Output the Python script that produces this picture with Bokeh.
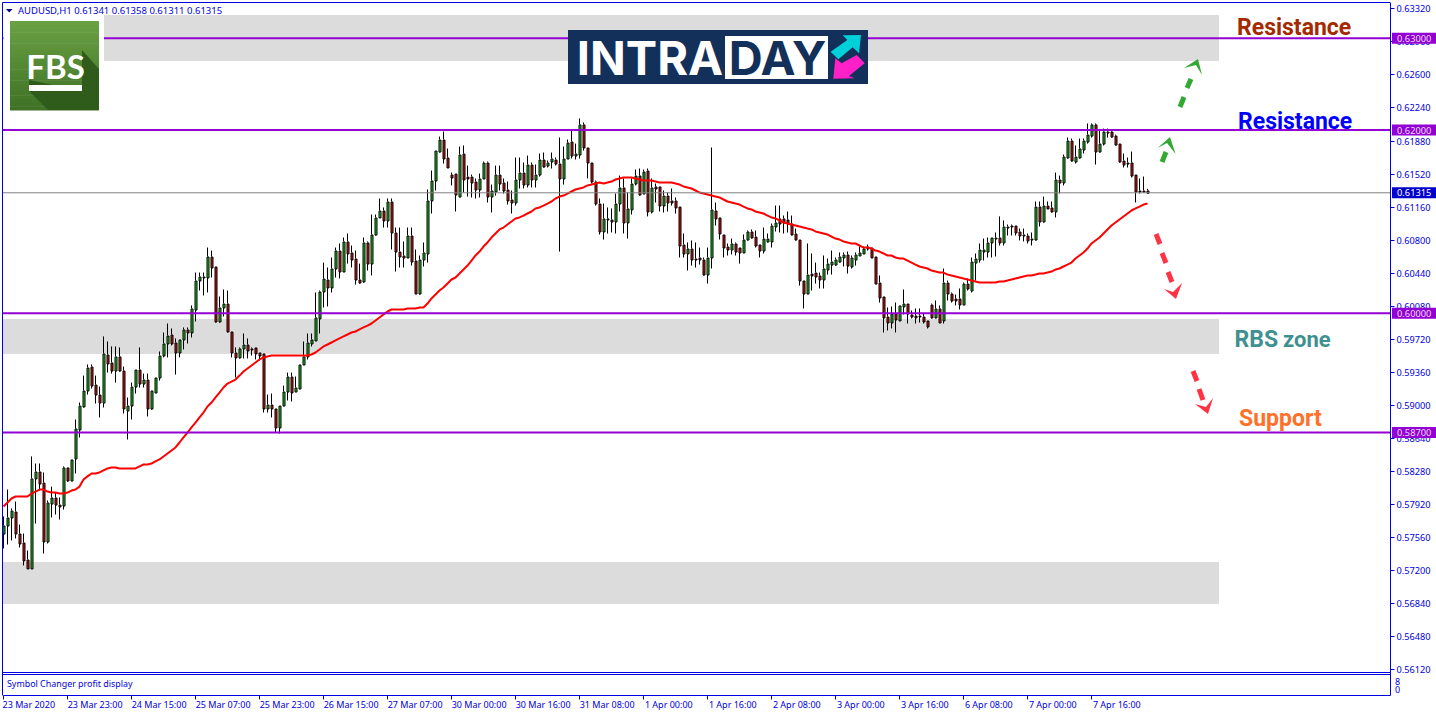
from bokeh.plotting import figure
from bokeh.models import Range1d, FixedTicker, Label, LinearAxis, BoxAnnotation
from bokeh.embed import file_html
from bokeh.resources import INLINE

POINT = 1e-5
symbol_text = "AUDUSD,H1  0.61341 0.61358 0.61311 0.61315"
time_labels = ["23 Mar 2020","23 Mar 23:00","24 Mar 15:00","25 Mar 07:00","25 Mar 23:00","26 Mar 15:00",
               "27 Mar 07:00","30 Mar 00:00","30 Mar 16:00","31 Mar 08:00","1 Apr 00:00","1 Apr 16:00",
               "2 Apr 08:00","3 Apr 00:00","3 Apr 16:00","6 Apr 08:00","7 Apr 00:00","7 Apr 16:00"]
price_ticks = [0.6332,0.6296,0.626,0.6224,0.6188,0.6152,0.6116,0.608,0.6044,0.6008,0.5972,0.5936,0.59,0.5864,
               0.5828,0.5792,0.5756,0.572,0.5684,0.5648,0.5612]
level_prices = [0.63, 0.62, 0.60, 0.587]
last_price = 0.61315
zone_tops = [0.63254, 0.59938, 0.57287]
zone_bottoms = [0.62753, 0.59556, 0.56829]

# candles, in 5-digit points
opens = [57598,57685,57773,57838,57598,57500,57315,57217,58199,58275,58154,57511,57925,57991,57914,57903,58319,58176,58417,58733,
58984,59158,59420,59223,59114,59027,59551,59464,59376,59530,59376,58940,58994,59201,59387,59234,59278,58962,59136,59300,
59540,59671,59769,59682,59573,59715,59824,59791,60042,60358,60391,60391,60620,60511,59911,60064,60107,59802,59573,59519,
59617,59660,59617,59628,59573,59562,58962,59005,58962,58755,58994,59147,59311,59147,59180,59442,59530,59671,59704,59944,
60238,60369,60282,60489,60685,60456,60784,60664,60598,60369,60347,60773,60543,60860,61046,61122,61013,61220,60882,60674,
60631,60609,60849,60576,60216,60587,60653,61231,61449,61765,61896,61700,61514,61525,61274,61743,61492,61492,61438,61351,
61471,61645,61274,61329,61514,61427,61351,61242,61209,61460,61536,61405,61623,61460,61514,61678,61612,61656,61678,61634,
61471,61689,61874,61721,61732,62061,61809,61645,61438,61198,60893,61024,61024,61002,61198,61373,60991,61133,61416,61503,
61307,61558,61111,61384,61384,61176,61285,61231,61231,61165,60751,60653,60707,60598,60609,60587,60423,60609,61122,61046,
60860,60729,60696,60762,60718,60664,60805,60893,60838,60751,60685,60784,60784,60947,61035,61035,61024,60980,60871,60805,
60358,60216,60434,60445,60413,60369,60478,60532,60532,60565,60609,60642,60511,60587,60631,60653,60707,60718,60620,60336,
60184,59965,59900,59998,59922,60075,60107,59987,59976,59976,59965,59922,60096,59955,60053,59922,60336,60216,60162,60162,
60096,60325,60249,60554,60587,60674,60674,60773,60816,60827,60773,60936,60947,60958,60893,60860,60849,60816,60805,61165,
61002,61176,61155,61111,61460,61427,61700,61885,61656,61700,61787,61874,61939,62061,61765,61852,61972,61983,61939,61852,
61667,61645,61645,61514,61340,61340,61341]
highs = [57784,58078,57871,57947,57696,57598,57413,58439,58362,58362,58264,57958,58110,58045,57991,58330,58319,58406,58842,59027,
59321,59442,59442,59321,59201,59748,59693,59639,59639,59628,59420,59082,59245,59387,59628,59343,59343,59158,59300,59584,
59791,59889,59835,59726,59715,59846,59846,60086,60445,60445,60445,60718,60685,60511,60184,60260,60249,59802,59628,59628,
59780,59726,59628,59628,59573,59562,59114,59125,58962,58994,59212,59354,59354,59311,59442,59693,59780,59780,60227,60249,
60554,60500,60609,60718,60762,60827,60871,60740,60685,60543,60827,60784,61078,61078,61253,61155,61253,61253,60936,60936,
60784,60936,60936,60696,60631,60773,61351,61558,61776,61928,61983,61798,61536,61525,61820,61831,61612,61514,61471,61525,
61656,61656,61405,61612,61612,61471,61438,61340,61700,61700,61645,61721,61645,61623,61743,61754,61667,61754,61700,61918,
61820,61896,61994,61852,62126,62083,61809,61645,61449,61253,61198,61155,61144,61307,61503,61471,61318,61471,61569,61580,
61569,61580,61471,61416,61384,61340,61318,61362,61264,61165,60871,60773,60795,60773,60718,60609,60718,61809,61209,61046,
60860,60762,60816,60773,60718,60860,60904,60915,60904,60751,60936,60871,60980,61176,61176,61067,61111,61067,60925,60805,
60358,60762,60653,60554,60445,60631,60598,60685,60609,60664,60664,60674,60631,60664,60740,60729,60751,60718,60620,60413,
60184,60064,60075,60118,60086,60260,60107,60031,60053,60053,59998,59922,60107,60140,60086,60489,60358,60227,60205,60271,
60336,60380,60609,60653,60762,60816,60827,60827,60882,61057,61013,60969,60969,60958,60925,60925,60871,60882,61220,61220,
61274,61220,61220,61536,61503,61732,61918,61907,61831,61907,61907,62071,62071,62071,61994,62016,62016,61994,61950,61852,
61743,61700,61765,61514,61471,61492,61358]
lows = [57435,57478,57522,57544,57446,57249,57217,57217,57707,58067,57380,57489,57773,57805,57751,57860,58165,58176,58253,58646,
58973,59114,59180,59016,58864,58973,59354,59343,59245,59365,58907,58624,58842,59125,59191,59191,58875,58951,59136,59267,
59519,59519,59650,59332,59519,59606,59671,59737,59911,60249,60195,60227,60391,59900,59900,59965,59791,59519,59300,59508,
59508,59508,59540,59497,59486,58918,58918,58864,58700,58689,58994,59049,59038,59147,59180,59442,59497,59639,59704,59780,
60064,60075,60227,60391,60380,60456,60543,60500,60314,60325,60336,60467,60413,60849,61046,60936,60936,60696,60456,60500,
60500,60609,60521,60216,60205,60511,60554,61089,61340,61754,61634,61591,61395,61111,61274,61318,61274,61264,61253,61264,
61471,61209,61100,61285,61340,61307,61187,61089,61176,61362,61362,61373,61373,61373,61492,61591,61591,61580,61612,60674,
61405,61689,61689,61678,61689,61776,61471,61416,61176,60860,60805,60871,60882,60871,61111,60871,60816,61078,61395,61285,
61307,61057,61089,61209,61111,61100,61111,61176,61089,60609,60609,60467,60521,60500,60532,60413,60325,60489,60958,60805,
60609,60631,60642,60631,60543,60664,60795,60816,60718,60609,60653,60773,60718,60893,60882,60871,60882,60849,60795,60303,
60053,60216,60249,60325,60271,60271,60423,60423,60521,60554,60511,60434,60489,60521,60631,60653,60685,60609,60325,60118,
59791,59813,59835,59791,59922,59987,59889,59944,59889,59900,59889,59835,59944,59944,59900,59889,60140,60118,60086,60042,
60096,60249,60227,60358,60554,60576,60609,60609,60620,60740,60740,60849,60849,60849,60795,60784,60762,60740,60795,60947,
60991,61144,61100,61046,61307,61395,61689,61656,61634,61689,61743,61852,61918,61623,61754,61831,61918,61918,61831,61645,
61591,61591,61482,61209,61307,61318,61311]
closes = [57685,57773,57849,57598,57489,57304,57217,58199,58275,58143,57511,57936,57991,57914,57893,58319,58176,58406,58744,58994,
59158,59409,59212,59114,59027,59562,59453,59376,59530,59376,58962,58994,59201,59387,59234,59278,58962,59158,59300,59540,
59671,59758,59671,59573,59715,59824,59791,60053,60358,60402,60402,60620,60500,59911,60064,60107,59802,59573,59519,59617,
59660,59595,59606,59562,59540,58962,59005,58962,58755,58994,59147,59311,59136,59191,59442,59530,59682,59715,59955,60238,
60380,60282,60489,60685,60456,60784,60653,60587,60369,60336,60773,60543,60860,61046,61122,61013,61220,60882,60674,60620,
60609,60849,60565,60216,60587,60664,61231,61449,61776,61896,61689,61591,61482,61296,61732,61460,61471,61427,61351,61471,
61645,61274,61340,61514,61416,61340,61231,61209,61460,61536,61405,61623,61460,61514,61678,61601,61645,61689,61634,61471,
61689,61863,61721,61743,62061,61809,61645,61438,61198,60893,61035,61035,61002,61198,61373,60991,61144,61416,61503,61296,
61547,61111,61373,61362,61176,61285,61209,61209,61155,60740,60653,60707,60587,60587,60587,60423,60609,61133,61035,60871,
60718,60696,60762,60674,60664,60805,60893,60827,60740,60685,60816,60816,60958,60991,60980,60991,60980,60860,60805,60358,
60216,60423,60413,60402,60369,60489,60543,60565,60587,60620,60642,60521,60609,60642,60664,60707,60729,60609,60325,60173,
59955,59900,59998,59933,60086,60107,59998,59965,59955,59965,59911,59857,59955,60053,59900,60336,60216,60140,60140,60096,
60325,60271,60565,60598,60696,60696,60773,60827,60827,60773,60947,60947,60958,60882,60849,60849,60795,60805,61165,61002,
61176,61144,61111,61460,61427,61710,61885,61667,61710,61798,61885,61950,62061,61765,61852,61983,61983,61928,61841,61656,
61623,61634,61503,61329,61329,61329,61315]
moving_average = [57893,57936,57980,58002,58002,58002,58002,58034,58056,58078,58078,58056,58045,58045,58034,58034,58045,58067,58078,58110,
58188,58221,58253,58253,58264,58286,58308,58319,58319,58308,58308,58308,58308,58308,58330,58351,58351,58362,58384,58406,
58439,58471,58504,58537,58591,58646,58700,58755,58809,58864,58918,58984,59027,59082,59136,59191,59234,59256,59278,59321,
59365,59398,59431,59464,59497,59519,59530,59540,59540,59540,59540,59540,59540,59540,59540,59540,59540,59551,59573,59606,
59639,59660,59682,59704,59726,59748,59769,59791,59802,59824,59846,59867,59889,59922,59955,59987,60020,60042,60042,60042,
60042,60053,60053,60053,60064,60064,60107,60162,60205,60249,60282,60325,60369,60391,60434,60478,60521,60576,60631,60674,
60729,60773,60827,60871,60915,60936,60969,61002,61035,61046,61067,61089,61111,61144,61155,61176,61198,61220,61253,61274,
61285,61307,61329,61351,61362,61373,61395,61405,61416,61427,61416,61427,61438,61460,61471,61482,61482,61482,61471,61460,
61449,61449,61449,61438,61427,61427,61427,61427,61416,61405,61384,61373,61362,61340,61318,61307,61296,61285,61274,61264,
61242,61220,61209,61198,61187,61165,61144,61133,61111,61100,61089,61067,61046,61035,61013,60991,60980,60969,60958,60947,
60936,60925,60915,60893,60882,60871,60860,60838,60816,60805,60784,60773,60762,60762,60740,60718,60718,60707,60685,60674,
60653,60631,60631,60609,60598,60598,60576,60554,60532,60511,60500,60489,60467,60456,60445,60445,60423,60413,60402,60391,
60380,60369,60358,60347,60336,60336,60336,60336,60336,60347,60347,60358,60369,60380,60391,60402,60413,60413,60423,60434,
60434,60445,60456,60478,60489,60511,60532,60554,60598,60631,60664,60707,60762,60795,60827,60871,60915,60958,60991,61024,
61057,61089,61122,61144,61165,61187,61198]

BLUE = "#0000e0"
BULL, BEAR = "#18d018", "#e01010"
n = min(len(opens), len(highs), len(lows), len(closes))
index = list(range(n))
O, H, L, C = [[v * POINT for v in a[:n]] for a in (opens, highs, lows, closes)]

# pixel helpers for decoration only (logos, labels, arrows)
X = lambda px: (px - 3.5) / 4
Y = lambda py: 0.62 + (130 - py) / 9167
HALF_PX_X, HALF_PX_Y = 0.125, 0.5 / 9167   # boxes and strokes land half a pixel apart

p = figure(width=1436, height=716, x_range=Range1d(-0.75, 358.25),
           y_range=Range1d(0.62 + (129.5 - 716) / 9167, 0.62 + 129.5 / 9167),
           output_backend="svg", toolbar_location=None, x_axis_type=None, y_axis_type=None,
           min_border_left=0, min_border_top=0, min_border_right=0, min_border_bottom=0,
           frame_width=1436, frame_height=716, background_fill_color="white", border_fill_color="white")
p.grid.visible = False
p.outline_line_color = None

ya = LinearAxis(ticker=FixedTicker(ticks=price_ticks), fixed_location=X(1390.5), bounds=(Y(695.5), Y(2.5)),
                major_label_overrides={t: f"{t:.5f}" for t in price_ticks},
                axis_line_color=BLUE, major_tick_line_color=BLUE, major_tick_out=4, major_tick_in=0,
                minor_tick_line_color=None, major_label_text_color=BLUE, major_label_text_font="Noto Sans",
                major_label_text_font_size="9.2px", major_label_standoff=2)
p.add_layout(ya, "right")

ticks_x = [16 * i for i in range(len(time_labels))]
xa = LinearAxis(ticker=FixedTicker(ticks=ticks_x), fixed_location=Y(695.5), bounds=(X(3), X(1390.5)),
                major_label_overrides={t: "" for t in ticks_x},
                axis_line_color=BLUE, major_tick_line_color=BLUE, major_tick_out=4, major_tick_in=0,
                minor_tick_line_color=None, major_label_text_color=BLUE)
p.add_layout(xa, "below")
# MetaTrader writes its time labels to the right of the tick: a second axis carries them
shifted = [t + len(s) * 2.3 / 4 for t, s in zip(ticks_x, time_labels)]
xb = LinearAxis(ticker=FixedTicker(ticks=shifted), fixed_location=Y(695.5),
                major_label_overrides=dict(zip(shifted, time_labels)),
                axis_line_color=None, major_tick_line_color=None, major_tick_out=0, major_tick_in=0,
                minor_tick_line_color=None, major_label_text_color=BLUE, major_label_text_font="Noto Sans",
                major_label_text_font_size="9px", major_label_standoff=2)
p.add_layout(xb, "below")

# zones
p.quad(left=[X(104), X(3), X(3)], right=[X(1219)] * 3, top=zone_tops, bottom=zone_bottoms,
       fill_color="#dcdcdc", line_color=None)

# candles: upper wick, lower wick, body
body_top = [max(O[i], C[i]) for i in index]
body_bot = [min(O[i], C[i]) for i in index]
p.segment(x0=index, x1=index, y0=body_top, y1=H, line_color="black", line_width=1)
p.segment(x0=index, x1=index, y0=L, y1=body_bot, line_color="black", line_width=1)
p.vbar(x=[i + HALF_PX_X for i in index], width=0.5,
       top=[t - HALF_PX_Y for t in body_top], bottom=[b - HALF_PX_Y for b in body_bot],
       fill_color=[BULL if C[i] >= O[i] else BEAR for i in index], line_color="black", line_width=1)

# moving average
p.line(index, [v * POINT for v in moving_average[:n]], line_color="#ff0000", line_width=2)

# levels
right_edge = X(1390)
p.segment(x0=[X(3)] * len(level_prices), x1=[right_edge] * len(level_prices), y0=level_prices, y1=level_prices,
          line_color="#9400d3", line_width=2)
p.segment(x0=[X(3)], x1=[right_edge], y0=[last_price], y1=[last_price], line_color="#808080", line_width=1)

# frame and sub window lines
for py in (2.5, 672.5, 674.5):
    p.line([X(2.5), right_edge], [Y(py), Y(py)], line_color=BLUE, line_width=1)
p.line([X(2.5), X(2.5)], [Y(2.5), Y(695.5)], line_color=BLUE, line_width=1)

def poly(pts, color):
    p.patch([X(a) for a, b in pts], [Y(b) for a, b in pts], fill_color=color, line_color=None)

def box(x0, x1, y0, y1, color):
    p.quad(left=[X(x0)], right=[X(x1)], top=[Y(y0)], bottom=[Y(y1)], fill_color=color, line_color=None)

def text(px, py, s, color, size, font="Roboto", style="normal", align="left"):
    p.add_layout(Label(x=X(px), y=Y(py), text=s, text_color=color, text_font_size=f"{size}px", text_font=font,
                       text_font_style=style, text_align=align, text_baseline="middle"))

# FBS logo
box(3.5, 104, 14, 115, "white")
strips = 24
for k in range(strips):
    t = k / (strips - 1)
    c = "#%02x%02x%02x" % (int(106 - 42 * t), int(160 - 46 * t), int(68 - 30 * t))
    box(10, 99, 21 + 89 * k / strips, 21 + 89 * (k + 1) / strips + 0.5, c)
poly([(29, 80), (29, 91), (48, 110), (99, 110), (99, 69), (82, 50), (82, 91)], "#2f5c1b")
box(29, 82, 85, 91, "white")
text(55.5, 66, "FBS", "white", 33, font="Lato", style="bold", align="center")

# INTRADAY logo
box(568, 868, 30, 84, "#13305a")
box(725, 828, 36, 79, "white")
text(650, 57.5, "INTRA", "white", 47, font="Inter", style="bold", align="center")
text(777.5, 57.5, "DAY", "#13305a", 47, font="Inter", style="bold", align="center")
poly([(842.7, 35.3), (861, 35), (859, 53.3), (852.7, 47.3), (838.3, 59.3), (830.7, 51.7), (847.3, 40)], "#00d0d8")
poly([(856.7, 55), (864.7, 63.3), (849, 76), (854.7, 78.3), (833.3, 78.7), (835.3, 58.3), (841.7, 63.3)], "#ff20c8")

# arrows
GREEN, RED = "#33a833", "#ff3344"
green_dashes = [((1180, 107), (1184, 97)), ((1187, 88), (1191, 79)), ((1162, 162), (1166, 152))]
red_dashes = [((1156, 234), (1160, 244)), ((1162, 253), (1166, 263)), ((1168, 272), (1172, 282)),
              ((1193, 371), (1197, 381)), ((1199, 389), (1203, 400))]
for dashes, col in ((green_dashes, GREEN), (red_dashes, RED)):
    for a, b in dashes:
        p.line([X(a[0]), X(b[0])], [Y(a[1]), Y(b[1])], line_color=col, line_width=5)
poly([(1198, 59), (1184, 68), (1196, 65), (1202, 75)], GREEN)
poly([(1170, 137), (1157.6, 148), (1167, 143), (1175.6, 154)], GREEN)
poly([(1176, 299), (1164, 289), (1173, 292), (1182, 283)], RED)
poly([(1208, 414), (1195, 404), (1206, 407), (1213, 398)], RED)

# zone labels
text(1237, 27, "Resistance", "#a52a00", 23, style="bold")
text(1238, 121, "Resistance", "#0000ff", 23, style="bold")
text(1234.5, 339, "RBS", "#3f9090", 23, style="bold")
text(1283, 339.5, "zone", "#3f9090", 22, style="bold")
text(1239, 418, "Support", "#ff7028", 23, style="bold")

# header & sub window text
poly([(6, 9), (12.5, 9), (9.2, 12.5)], "#000080")
text(18, 10, symbol_text, BLUE, 9.5, font="Noto Sans")
text(7, 683.5, "Symbol Changer profit display", BLUE, 8.9, font="Noto Sans")
text(1395, 681, "8", BLUE, 9, font="Noto Sans")
text(1395, 689, "0", BLUE, 9, font="Noto Sans")

# price boxes
def price_box(price, fill, ink):
    mid = 130 + (0.62 - price) * 9167
    p.add_layout(BoxAnnotation(left=X(1392), right=X(1436), top=Y(mid - 5.5), bottom=Y(mid + 5.5),
                               fill_color=fill, fill_alpha=1, line_color=None, level="annotation"))
    text(1397, mid, f"{price:.5f}", ink, 9.3, font="Noto Sans")

for lv in level_prices:
    price_box(lv, "#9400d3", "#e8dcf4")
price_box(last_price, "#0000cd", "white")

open("out.html", "w").write(file_html(p, INLINE))
